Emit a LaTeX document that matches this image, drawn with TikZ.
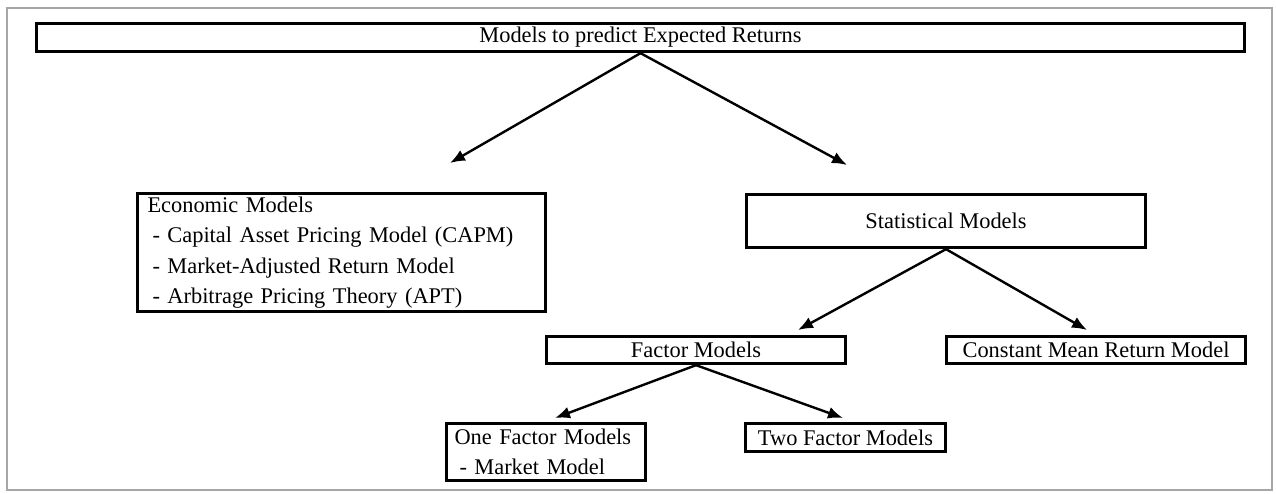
\documentclass[tikz,border=0pt]{standalone}
\usepackage{fontspec}
\setmainfont{Liberation Serif}
\usetikzlibrary{arrows,arrows.meta,positioning,calc}

\begin{document}
\begin{tikzpicture}[x=1pt,y=-1pt,
    box/.style={draw,line width=3.3pt,inner sep=0pt,
      font=\fontsize{22.4}{30.5}\selectfont},
    arr/.style={-{Latex[length=15pt,width=12pt]},line width=2.4pt}]
    \useasboundingbox (0,0) rectangle (1276,493);
    \draw [gray!70,line width=1.6pt] (7,8) rectangle (1272,490);

    \node [box,minimum width=1208pt,minimum height=28pt] (top) at (640.5,37.5) {Models to predict Expected Returns};
    \node [box,align=left,text width=388pt,inner xsep=10pt,minimum height=118pt] (econ) at (341.5,252.5)
      {Economic Models\\
       \hspace*{5pt}- Capital Asset Pricing Model (CAPM)\\
       \hspace*{5pt}- Market-Adjusted Return Model\\
       \hspace*{5pt}- Arbitrage Pricing Theory (APT)};
    \node [box,minimum width=399pt,minimum height=53pt] (stat) at (946,221) {Statistical Models};
    \node [box,minimum width=299pt,minimum height=27pt] (factor) at (696,350) {Factor Models};
    \node [box,minimum width=299pt,minimum height=27pt] (const) at (1096,350) {Constant Mean Return Model};
    \node [box,align=left,text width=183pt,inner xsep=8pt,minimum height=57pt] (one) at (546,452)
      {One Factor Models\\
       \hspace*{5pt}- Market Model};
    \node [box,minimum width=200pt,minimum height=28pt] (two) at (845.5,437.5) {Two Factor Models};

    % arrow tips stop short of the boxes
    \coordinate (econtip) at (450,163);
    \coordinate (stattip) at (847,165);
    \coordinate (factortip) at (798,330);
    \coordinate (consttip) at (1087,330);
    \coordinate (onetip) at (555,418);
    \coordinate (twotip) at (843,418);

    \draw [arr] (top.south) -- (econtip);
    \draw [arr] (top.south) -- (stattip);
    \draw [arr] (stat.south) -- (factortip);
    \draw [arr] (stat.south) -- (consttip);
    \draw [arr] (factor.south) -- (onetip);
    \draw [arr] (factor.south) -- (twotip);
  \end{tikzpicture}
\end{document}
